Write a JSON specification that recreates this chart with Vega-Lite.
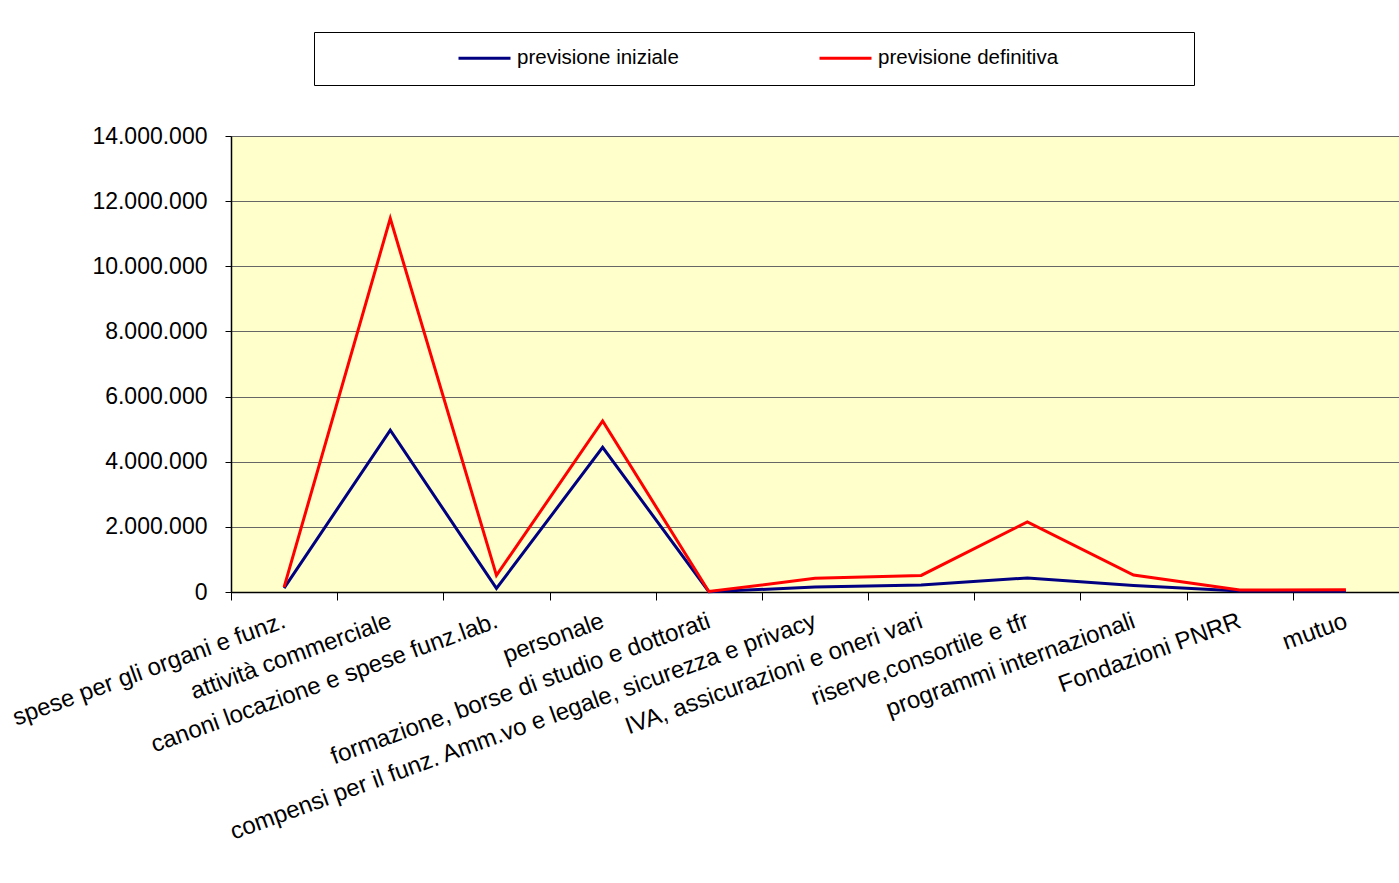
{
  "$schema": "https://vega.github.io/schema/vega-lite/v6.json",
  "autosize": "none",
  "width": 1168,
  "height": 456,
  "padding": {"left": 231, "top": 136, "right": 0, "bottom": 291},
  "background": "#ffffff",
  "data": {
    "values": [
      {"categoria": "spese per gli organi e funz.", "serie": "previsione iniziale", "valore": 120000},
      {"categoria": "attività commerciale", "serie": "previsione iniziale", "valore": 4970000},
      {"categoria": "canoni locazione e spese funz.lab.", "serie": "previsione iniziale", "valore": 110000},
      {"categoria": "personale", "serie": "previsione iniziale", "valore": 4440000},
      {"categoria": "formazione, borse di studio e dottorati", "serie": "previsione iniziale", "valore": 10000},
      {"categoria": "compensi per il funz. Amm.vo e legale, sicurezza e privacy", "serie": "previsione iniziale", "valore": 150000},
      {"categoria": "IVA, assicurazioni e oneri vari", "serie": "previsione iniziale", "valore": 215000},
      {"categoria": "riserve,consortile e tfr", "serie": "previsione iniziale", "valore": 430000},
      {"categoria": "programmi internazionali", "serie": "previsione iniziale", "valore": 200000},
      {"categoria": "Fondazioni PNRR", "serie": "previsione iniziale", "valore": 30000},
      {"categoria": "mutuo", "serie": "previsione iniziale", "valore": 20000},
      {"categoria": "spese per gli organi e funz.", "serie": "previsione definitiva", "valore": 150000},
      {"categoria": "attività commerciale", "serie": "previsione definitiva", "valore": 11470000},
      {"categoria": "canoni locazione e spese funz.lab.", "serie": "previsione definitiva", "valore": 510000},
      {"categoria": "personale", "serie": "previsione definitiva", "valore": 5250000},
      {"categoria": "formazione, borse di studio e dottorati", "serie": "previsione definitiva", "valore": 15000},
      {"categoria": "compensi per il funz. Amm.vo e legale, sicurezza e privacy", "serie": "previsione definitiva", "valore": 420000},
      {"categoria": "IVA, assicurazioni e oneri vari", "serie": "previsione definitiva", "valore": 510000},
      {"categoria": "riserve,consortile e tfr", "serie": "previsione definitiva", "valore": 2150000},
      {"categoria": "programmi internazionali", "serie": "previsione definitiva", "valore": 520000},
      {"categoria": "Fondazioni PNRR", "serie": "previsione definitiva", "valore": 60000},
      {"categoria": "mutuo", "serie": "previsione definitiva", "valore": 70000}
    ]
  },
  "mark": {"type": "line", "strokeWidth": 3, "strokeJoin": "miter"},
  "encoding": {
    "x": {
      "field": "categoria",
      "type": "nominal",
      "sort": null,
      "bandPosition": 0.5,
      "scale": {"type": "band", "paddingInner": 0, "paddingOuter": 0},
      "axis": {
        "title": null,
        "tickBand": "extent",
        "labelAngle": -20,
        "labelAlign": "right",
        "labelBaseline": "middle",
        "labelPadding": 20,
        "labelFontSize": 24,
        "labelLimit": 1000,
        "labelOverlap": false,
        "tickSize": 8,
        "grid": false
      }
    },
    "y": {
      "field": "valore",
      "type": "quantitative",
      "scale": {"domain": [0, 14000000], "nice": false},
      "axis": {
        "title": null,
        "values": [0, 2000000, 4000000, 6000000, 8000000, 10000000, 12000000, 14000000],
        "format": ",d",
        "tickSize": 6,
        "labelPadding": 18,
        "labelFontSize": 23,
        "grid": true,
        "gridColor": "#666666",
        "gridWidth": 1
      }
    },
    "color": {
      "field": "serie",
      "type": "nominal",
      "sort": ["previsione iniziale", "previsione definitiva"],
      "scale": {"domain": ["previsione iniziale", "previsione definitiva"], "range": ["#000080", "#FF0000"]},
      "legend": {
        "orient": "none",
        "legendX": 83,
        "legendY": -104,
        "direction": "horizontal",
        "title": " ",
        "titleOrient": "left",
        "titlePadding": 127,
        "titleFontSize": 20,
        "strokeColor": "#000000",
        "fillColor": "#ffffff",
        "padding": 16,
        "symbolType": "stroke",
        "symbolSize": 2704,
        "symbolStrokeWidth": 3,
        "clipHeight": 20,
        "labelOffset": 5,
        "columnPadding": 139,
        "labelLimit": 600,
        "labelFontSize": 20.5,
        "labelExpr": "indexof(datum.value, 'definitiva') >= 0 ? datum.value + '\u00a0\u00a0\u00a0\u00a0\u00a0\u00a0\u00a0\u00a0\u00a0\u00a0\u00a0\u00a0\u00a0\u00a0\u00a0\u00a0\u00a0\u00a0\u00a0\u00a0\u00a0\u200b' : datum.value"
      }
    }
  },
  "config": {
    "locale": {"number": {"decimal": ",", "thousands": ".", "grouping": [3], "currency": ["", " €"]}},
    "font": "Liberation Sans",
    "view": {"fill": "#FFFFCC", "stroke": "#808080", "strokeWidth": 1},
    "axis": {
      "labelFont": "Liberation Sans",
      "labelColor": "#000000",
      "domainColor": "#000000",
      "domainWidth": 1.5,
      "tickColor": "#000000",
      "tickWidth": 1
    },
    "legend": {
      "labelFont": "Liberation Sans",
      "labelColor": "#000000"
    }
  }
}
